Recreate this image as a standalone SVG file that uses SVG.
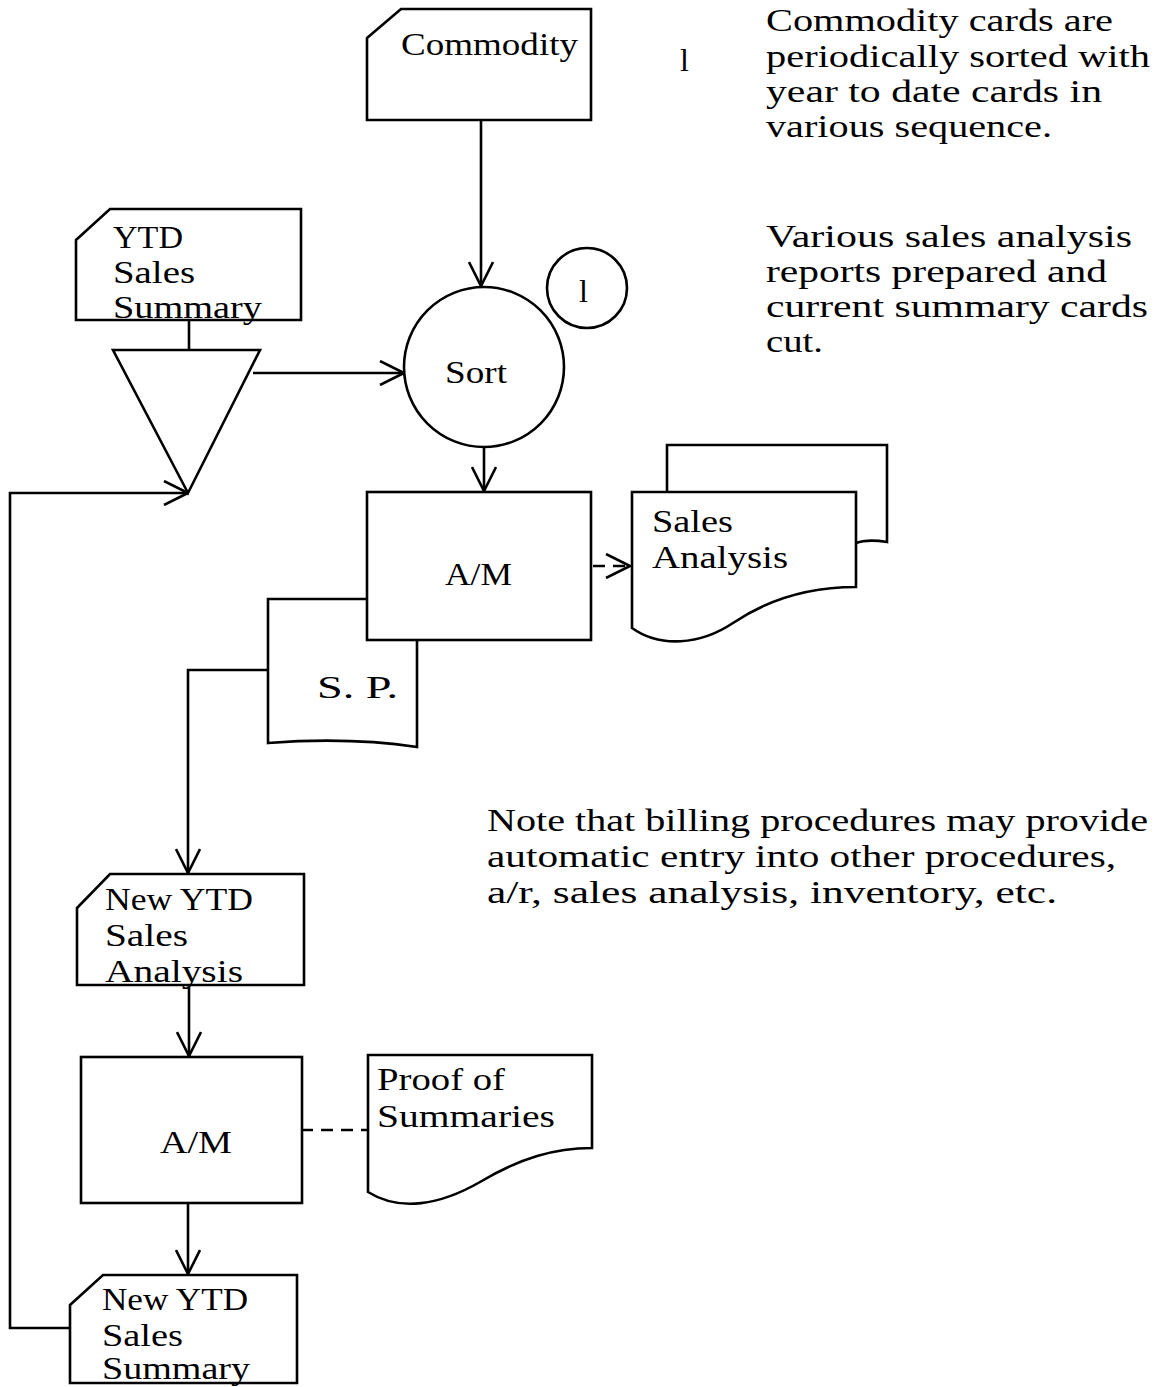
<svg xmlns="http://www.w3.org/2000/svg" width="1169" height="1387" viewBox="0 0 1169 1387">
  <style>
    .shape { fill: #fff; stroke: #000; stroke-width: 2.6; stroke-linejoin: miter; }
    .line { fill: none; stroke: #000; stroke-width: 2.6; }
    .dash { fill: none; stroke: #000; stroke-width: 2.6; stroke-dasharray: 12 8; }
    .tip { fill: none; stroke: #000; stroke-width: 2.6; stroke-dasharray: none; stroke-linejoin: miter; }
    text { font-family: "Liberation Serif", "Times New Roman", serif; font-size: 32px; fill: #000; }
  </style>
  <defs>
    <!-- open V arrowhead used on all flow lines -->
    <marker id="arrow" viewBox="0 0 26 26" refX="25" refY="13" markerWidth="26" markerHeight="26" markerUnits="userSpaceOnUse" orient="auto">
      <path class="tip" d="M1,1 L25,13 L1,25"/>
    </marker>
  </defs>

  <!-- flow lines -->
  <g id="connectors">
    <line class="line" x1="481" y1="120" x2="481" y2="286" marker-end="url(#arrow)"/>
    <line class="line" x1="189" y1="320" x2="189" y2="350"/>
    <line class="line" x1="253" y1="373" x2="404" y2="373" marker-end="url(#arrow)"/>
    <line class="line" x1="484" y1="447" x2="484" y2="491" marker-end="url(#arrow)"/>
    <line class="dash" x1="593" y1="566" x2="630" y2="566" stroke-dasharray="7 6" marker-end="url(#arrow)"/>
    <polyline class="line" points="268,670 188,670 188,873" marker-end="url(#arrow)"/>
    <line class="line" x1="189" y1="985" x2="189" y2="1056" marker-end="url(#arrow)"/>
    <line class="dash" x1="301" y1="1130" x2="368" y2="1130"/>
    <line class="line" x1="188" y1="1203" x2="188" y2="1274" marker-end="url(#arrow)"/>
    <polyline class="line" points="70,1328 10,1328 10,493 188,493" marker-end="url(#arrow)"/>
  </g>

  <!-- Commodity card file -->
  <g id="commodity">
    <path class="shape" d="M367,38 L401,9 L591,9 L591,120 L367,120 Z"/>
    <text x="401" y="55" textLength="177" lengthAdjust="spacingAndGlyphs">Commodity</text>
  </g>

  <!-- YTD sales summary card file -->
  <g id="ytd-summary">
    <path class="shape" d="M76,240 L110,209 L301,209 L301,320 L76,320 Z"/>
    <text x="113" y="248" textLength="70" lengthAdjust="spacingAndGlyphs">YTD</text>
    <text x="113" y="283" textLength="82" lengthAdjust="spacingAndGlyphs">Sales</text>
    <text x="113" y="318" textLength="149" lengthAdjust="spacingAndGlyphs">Summary</text>
  </g>

  <!-- merge / file triangle -->
  <g id="merge">
    <path class="shape" d="M113,350 L260,350 L188,493 Z"/>
  </g>

  <!-- sort operation -->
  <g id="sort">
    <circle class="shape" cx="484" cy="367" r="80"/>
    <text x="445" y="383" textLength="62" lengthAdjust="spacingAndGlyphs">Sort</text>
  </g>

  <!-- step reference -->
  <g id="step-1">
    <circle class="shape" cx="587" cy="288" r="40"/>
    <text x="579" y="302">l</text>
  </g>

  <!-- S.P. document (behind the machine box) -->
  <g id="sp">
    <path class="shape" d="M367,599 L268,599 L268,743 C320,739 370,740 417,747 L417,640"/>
    <text x="317" y="698" textLength="81" lengthAdjust="spacingAndGlyphs">S. P.</text>
  </g>

  <!-- accounting machine -->
  <g id="am-1">
    <rect class="shape" x="367" y="492" width="224" height="148"/>
    <text x="445" y="585" textLength="67" lengthAdjust="spacingAndGlyphs">A/M</text>
  </g>

  <!-- sales analysis reports (multiple) -->
  <g id="sales-analysis">
    <path class="shape" d="M667,492 L667,445 L887,445 L887,542 C875,540 864,540 856,543"/>
    <path class="shape" d="M632,492 L856,492 L856,587 C810,587 770,598 733,623 C700,645 660,648 632,628 Z"/>
    <text x="652" y="532" textLength="81" lengthAdjust="spacingAndGlyphs">Sales</text>
    <text x="652" y="568" textLength="136" lengthAdjust="spacingAndGlyphs">Analysis</text>
  </g>

  <!-- new YTD sales analysis card file -->
  <g id="new-ytd-analysis">
    <path class="shape" d="M77,908 L110,874 L304,874 L304,985 L77,985 Z"/>
    <text x="105" y="910" textLength="148" lengthAdjust="spacingAndGlyphs">New YTD</text>
    <text x="105" y="946" textLength="83" lengthAdjust="spacingAndGlyphs">Sales</text>
    <text x="105" y="982" textLength="138" lengthAdjust="spacingAndGlyphs">Analysis</text>
  </g>

  <!-- second accounting machine -->
  <g id="am-2">
    <rect class="shape" x="81" y="1057" width="221" height="146"/>
    <text x="160" y="1153" textLength="72" lengthAdjust="spacingAndGlyphs">A/M</text>
  </g>

  <!-- proof listing -->
  <g id="proof">
    <path class="shape" d="M368,1192 L368,1055 L592,1055 L592,1148 C555,1148 520,1158 480,1182 C440,1205 400,1212 368,1192 Z"/>
    <text x="377" y="1090" textLength="128" lengthAdjust="spacingAndGlyphs">Proof of</text>
    <text x="377" y="1127" textLength="178" lengthAdjust="spacingAndGlyphs">Summaries</text>
  </g>

  <!-- new YTD sales summary card file -->
  <g id="new-ytd-summary">
    <path class="shape" d="M70,1305 L103,1275 L297,1275 L297,1383 L70,1383 Z"/>
    <text x="102" y="1310" textLength="146" lengthAdjust="spacingAndGlyphs">New YTD</text>
    <text x="102" y="1346" textLength="81" lengthAdjust="spacingAndGlyphs">Sales</text>
    <text x="102" y="1379" textLength="148" lengthAdjust="spacingAndGlyphs">Summary</text>
  </g>

  <!-- explanatory notes -->
  <g id="notes">
    <text x="680" y="71">l</text>
    <text x="766" y="31" textLength="347" lengthAdjust="spacingAndGlyphs">Commodity cards are</text>
    <text x="766" y="67" textLength="384" lengthAdjust="spacingAndGlyphs">periodically sorted with</text>
    <text x="766" y="102" textLength="336" lengthAdjust="spacingAndGlyphs">year to date cards in</text>
    <text x="766" y="137" textLength="286" lengthAdjust="spacingAndGlyphs">various sequence.</text>

    <text x="766" y="247" textLength="366" lengthAdjust="spacingAndGlyphs">Various sales analysis</text>
    <text x="766" y="282" textLength="341" lengthAdjust="spacingAndGlyphs">reports prepared and</text>
    <text x="766" y="317" textLength="382" lengthAdjust="spacingAndGlyphs">current summary cards</text>
    <text x="766" y="352" textLength="57" lengthAdjust="spacingAndGlyphs">cut.</text>

    <text x="487" y="831" textLength="661" lengthAdjust="spacingAndGlyphs">Note that billing procedures may provide</text>
    <text x="487" y="867" textLength="629" lengthAdjust="spacingAndGlyphs">automatic entry into other procedures,</text>
    <text x="487" y="903" textLength="570" lengthAdjust="spacingAndGlyphs">a/r, sales analysis, inventory, etc.</text>
  </g>
</svg>
